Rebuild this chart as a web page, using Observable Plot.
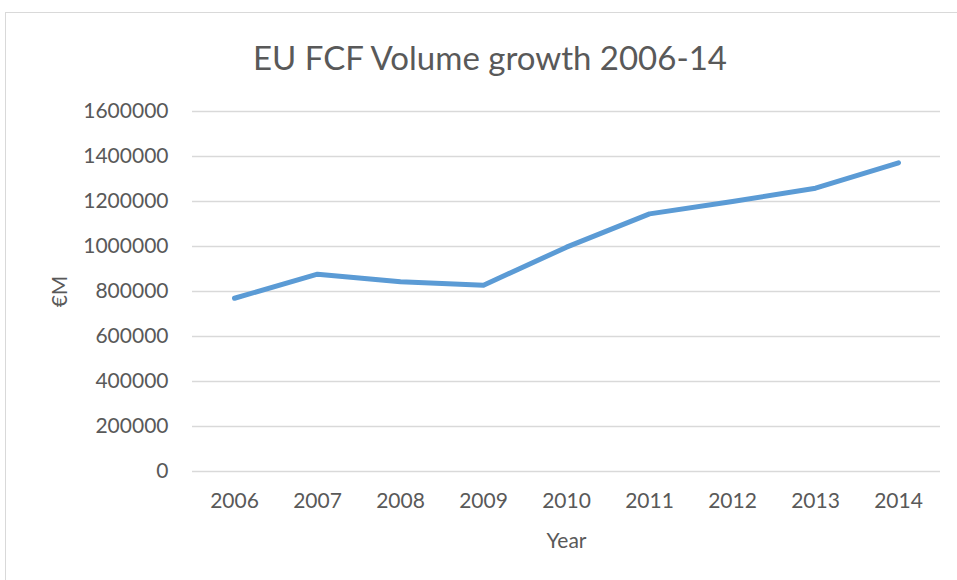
<!DOCTYPE html>
<html>
<head>
<meta charset="utf-8">
<script src="https://cdn.jsdelivr.net/npm/d3@7"></script>
<script src="https://cdn.jsdelivr.net/npm/@observablehq/plot@0.6"></script>
<style>
  html, body { margin: 0; padding: 0; background: #fff; }
  #wrap { position: relative; width: 957px; height: 580px; overflow: hidden; font-family: Lato, "Open Sans", sans-serif; }
  #frame { position: absolute; left: 5px; top: 12px; width: 1000px; height: 1000px; border: 1px solid #d9d9d9; box-sizing: border-box; }
  #title { position: absolute; top: 37px; left: 0; width: 980px; text-align: center; font-size: 33px; color: #595959; }
  #chart { position: absolute; left: 0; top: 0; }
</style>
</head>
<body>
<div id="wrap">
  <div id="frame"></div>
  <div id="title">EU FCF Volume growth 2006-14</div>
  <div id="chart"></div>
</div>
<script>
const years = ["2006", "2007", "2008", "2009", "2010", "2011", "2012", "2013", "2014"];
const volumes = [770000, 877000, 843000, 828000, 997000, 1145000, 1200000, 1259000, 1372000];
const yTicks = [0, 200000, 400000, 600000, 800000, 1000000, 1200000, 1400000, 1600000];

const data = years.map((y, i) => ({year: y, value: volumes[i]}));

const chart = Plot.plot({
  width: 957,
  height: 580,
  marginLeft: 192,
  marginRight: 17,
  marginTop: 111,
  marginBottom: 109,
  style: {fontFamily: "Lato, 'Open Sans', sans-serif", fontSize: "21px", color: "#595959", background: "transparent"},
  x: {type: "point", domain: years, padding: 0.5},
  y: {domain: [0, 1600000]},
  marks: [
    Plot.gridY(yTicks, {stroke: "#d9d9d9", strokeOpacity: 1, strokeWidth: 1.5}),
    Plot.axisY({ticks: yTicks, tickFormat: d => String(d), tickSize: 0, tickPadding: 24, label: "€M", labelAnchor: "center", labelOffset: 140, labelArrow: "none", fill: "#595959"}),
    Plot.axisX({tickSize: 0, tickPadding: 22, label: "Year", labelAnchor: "center", labelOffset: 76, labelArrow: "none", fill: "#595959"}),
    Plot.line(data, {x: "year", y: "value", stroke: "#5b9bd5", strokeWidth: 5, strokeLinecap: "round", strokeLinejoin: "round"})
  ]
});
document.getElementById("chart").appendChild(chart);
</script>
</body>
</html>
